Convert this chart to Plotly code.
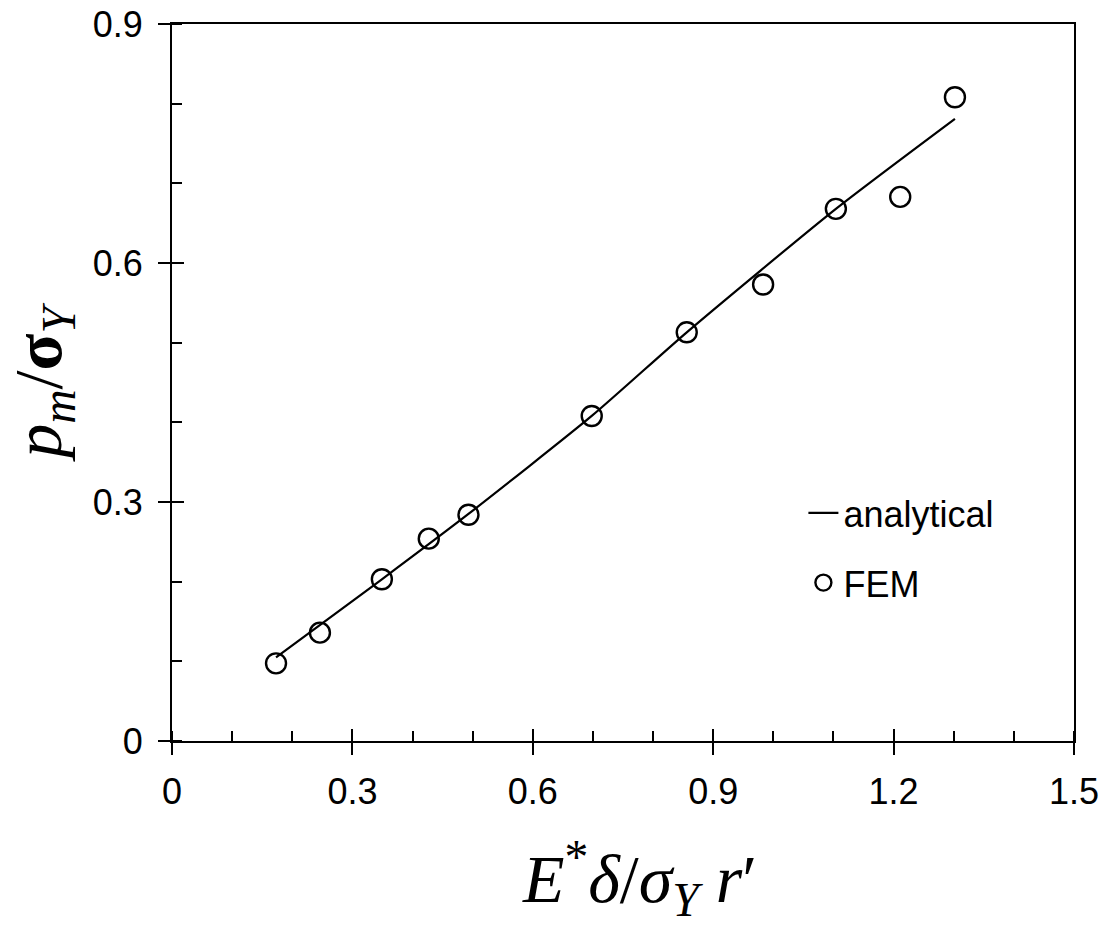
import plotly.graph_objects as go

# FEM results
fem_x = [0.173, 0.246, 0.349, 0.427, 0.493, 0.698, 0.856, 0.983, 1.104, 1.211, 1.302]
fem_y = [0.0975, 0.136, 0.203, 0.254, 0.284, 0.408, 0.513, 0.573, 0.668, 0.683, 0.808]

# analytical curve
ana_x = [0.173, 0.349, 0.493, 0.698, 0.856, 1.104, 1.302]
ana_y = [0.105, 0.203, 0.285, 0.408, 0.513, 0.668, 0.781]

x_ticks = [0, 0.3, 0.6, 0.9, 1.2, 1.5]
x_ticklabels = ["0", "0.3", "0.6", "0.9", "1.2", "1.5"]
y_ticks = [0, 0.3, 0.6, 0.9]
y_ticklabels = ["0", "0.3", "0.6", "0.9"]

tick_font = dict(family="Liberation Sans, Arial", size=36, color="black")
title_font = dict(family="Liberation Serif, Times New Roman", size=68, color="black")

fig = go.Figure()
fig.add_trace(go.Scatter(
    x=ana_x, y=ana_y, mode="lines", name="analytical",
    line=dict(color="black", width=2.2, shape="spline", smoothing=0.6),
    legendgroup="a",
))
fig.add_trace(go.Scatter(
    x=fem_x, y=fem_y, mode="markers", name="FEM",
    marker=dict(symbol="circle-open", size=20, color="black", line=dict(width=2.4, color="black")),
    legendgroup="b",
))

axis_common = dict(
    showgrid=False, zeroline=False, showline=True, linecolor="black", linewidth=2,
    mirror=True, ticks="outside", ticklen=12, tickwidth=2, tickcolor="black",
    tickfont=tick_font, automargin=False,
)

fig.update_layout(
    width=1114, height=926,
    margin=dict(l=172, r=40, t=24, b=185),
    paper_bgcolor="white", plot_bgcolor="white",
    showlegend=True,
    legend=dict(
        x=0.700, y=0.36, xanchor="left", yanchor="top",
        font=dict(family="Liberation Sans, Arial", size=36, color="black"),
        bgcolor="rgba(0,0,0,0)", traceorder="grouped", tracegroupgap=20,
        itemwidth=30,
    ),
    xaxis=dict(
        **axis_common, range=[0, 1.5], tickvals=x_ticks, ticktext=x_ticklabels,
        minor=dict(dtick=0.1, tick0=0, ticks="inside", ticklen=10, tickwidth=2, tickcolor="black"),
        ticklabelstandoff=6,
        title=dict(
            text="&nbsp;&nbsp;<i>E</i><sup>*</sup><i>δ</i>/<i>σ</i><sub><i>Y</i></sub> <i>r</i>′",
            font=title_font, standoff=50,
        ),
    ),
    yaxis=dict(
        **axis_common, range=[0, 0.9], tickvals=y_ticks, ticktext=y_ticklabels,
        minor=dict(dtick=0.1, tick0=0, ticks="inside", ticklen=10, tickwidth=2, tickcolor="black"),
        ticklabelstandoff=8,
        title=dict(
            text="<i>p</i><sub><i>m</i></sub>/<b>σ</b><sub><i>Y</i></sub>",
            font=title_font, standoff=36,
        ),
    ),
    # inner halves of the major ticks so they cross the axis lines
    xaxis2=dict(
        overlaying="x", range=[0, 1.5], tickvals=x_ticks,
        ticks="inside", ticklen=12, tickwidth=2, tickcolor="black",
        showticklabels=False, showgrid=False, zeroline=False, showline=False,
        side="bottom",
    ),
    yaxis2=dict(
        overlaying="y", range=[0, 0.9], tickvals=y_ticks,
        ticks="inside", ticklen=12, tickwidth=2, tickcolor="black",
        showticklabels=False, showgrid=False, zeroline=False, showline=False,
        side="left",
    ),
)

# invisible trace that anchors the overlay axes
fig.add_trace(go.Scatter(x=[0], y=[0], xaxis="x2", yaxis="y2", mode="markers",
                         marker=dict(opacity=0), showlegend=False, hoverinfo="skip"))

fig.write_html("out.html")
